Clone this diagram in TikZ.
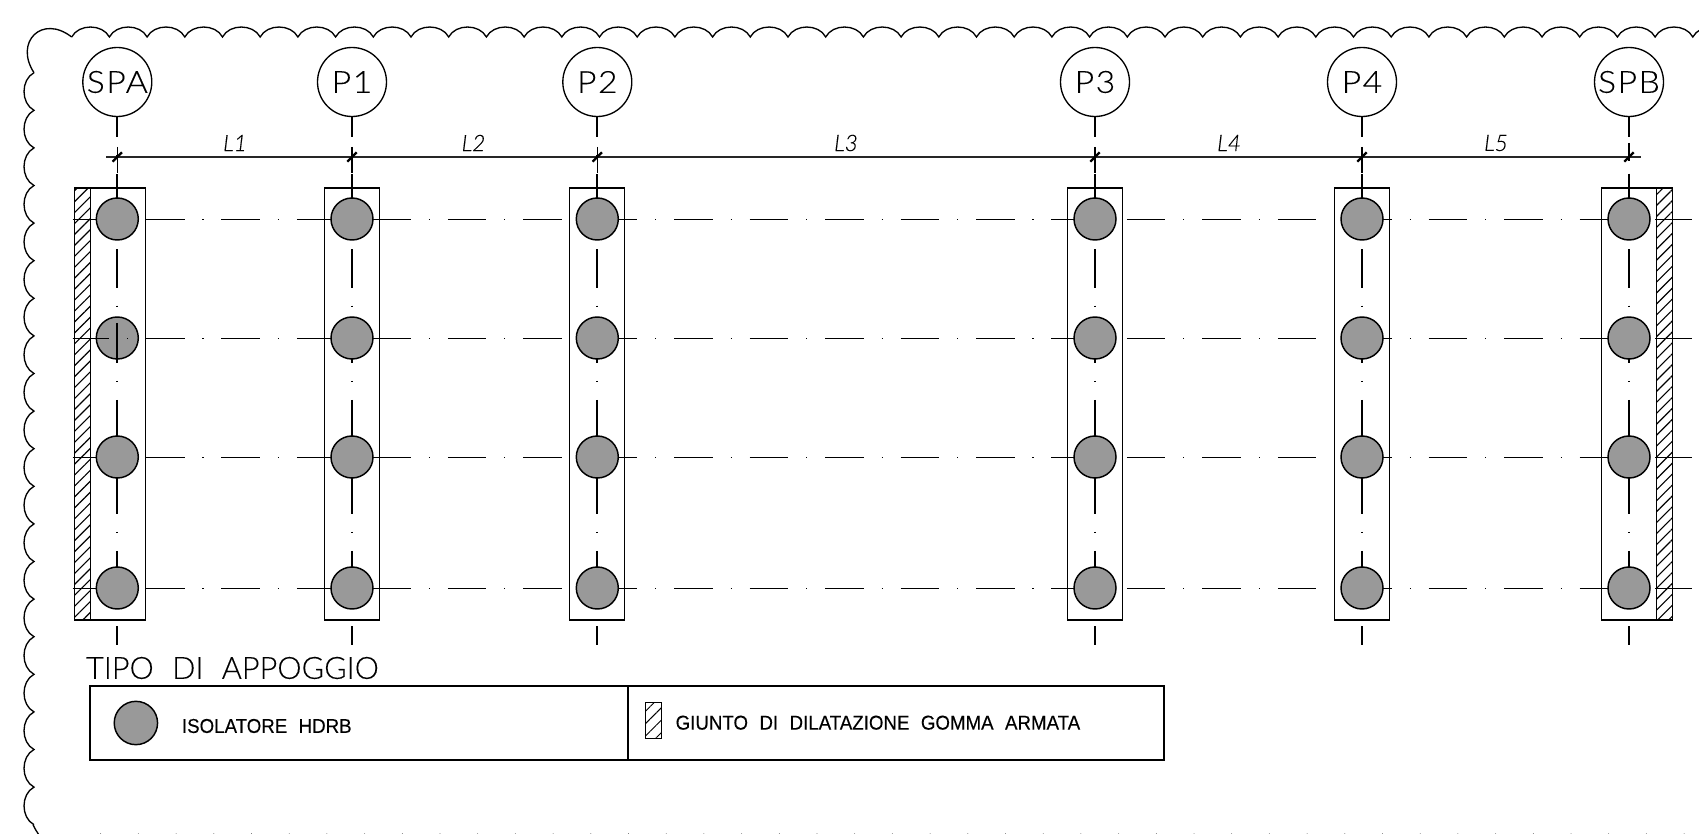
\documentclass[tikz,border=0pt]{standalone}
\usepackage{fontspec}
\usetikzlibrary{patterns.meta}
\setmainfont{Liberation Sans}
\newfontfamily\cadthin[WordSpace=2.2,FakeStretch=1.0,FakeBold=0.15]{Lato Light}
\newfontfamily\cadwide[FakeStretch=1.1,LetterSpace=5,FakeBold=0.15]{Lato Light}
\newfontfamily\cadplain[WordSpace=2.2,FakeStretch=0.935,FakeBold=0.25]{Liberation Sans}
\tikzset{
  cloudline/.style={line width=1pt},
  pierbox/.style={draw,line width=1pt,minimum width=41.25pt,minimum height=324pt,inner sep=0pt},
  jointbox/.style={draw,line width=1pt,minimum width=12pt,minimum height=324pt,inner sep=0pt,
    pattern={Lines[angle=45,distance=5.8pt,line width=.85pt]}},
  bubble/.style={draw,circle,line width=1pt,minimum size=51.75pt,inner sep=0pt,font=\cadwide\fontsize{23}{23}\selectfont},
  isolator/.style={draw,circle,fill=black!40,line width=1.1pt,minimum size=31.5pt,inner sep=0pt},
  axisv/.style={line width=1.3pt,dash pattern=on 28.9pt off 13.45pt on .8pt off 13.44pt,dash phase=14.25pt},
  axish/.style={line width=.7pt,dash pattern=on 28.9pt off 13.45pt on .8pt off 13.44pt,dash phase=1.6pt},
  dimline/.style={line width=.8pt,color=black!85},
  dimend/.style={line width=.9pt},
  ticksign/.style={line width=1.7pt},
  spanlabel/.style={font=\cadthin\itshape\fontsize{17}{17}\selectfont},
  legendbox/.style={draw,line width=1.5pt,minimum height=56pt,inner sep=0pt},
}
\begin{document}
\begin{tikzpicture}[x=.75pt,y=-.75pt]%[auto]
\useasboundingbox (0,0) rectangle (1699,834);
\clip (0,0) rectangle (1699,834);

\draw [cloudline] (71.7,37) \foreach \k in {1,...,44} {.. controls +(7,-13.3) and +(-7,-13.3) .. ++(37.7,0)};
\draw [cloudline] (34,72.7) \foreach \k in {1,...,20} {.. controls +(-13.3,7) and +(-13.3,-7) .. ++(0,37.6)};
\draw [cloudline] (34,72.7) .. controls (14,42) and (42,14) .. (71.7,37);
\draw [cloudline] (33,824.7) .. controls (35,829) and (37,832) .. (41,838);
\draw [cloudline] (63,834.5) \foreach \k in {1,...,44} {.. controls +(7,13.3) and +(-7,13.3) .. ++(37.7,0)};

\node [bubble] (spa) at (117.3,82) {SPA};
\node [bubble] (pa) at (352,82) {P1};
\node [bubble] (pb) at (597.3,82) {P2};
\node [bubble] (pc) at (1095,82) {P3};
\node [bubble] (pd) at (1362,82) {P4};
\node [bubble] (spb) at (1629,82) {SPB};

\node [jointbox] (jointa) at (82.5,404) {};
\node [jointbox] (jointb) at (1664.5,404) {};
\node [pierbox] (boxspa) at (117.7,404) {};
\node [pierbox] (boxpa) at (352.2,404) {};
\node [pierbox] (boxpb) at (597.2,404) {};
\node [pierbox] (boxpc) at (1094.8,404) {};
\node [pierbox] (boxpd) at (1362,404) {};
\node [pierbox] (boxspb) at (1629.2,404) {};

\coordinate (rowa) at (72.7,219);
\coordinate (rowb) at (72.7,338);
\coordinate (rowc) at (72.7,457);
\coordinate (rowd) at (72.7,588);
\coordinate (rowaend) at (1692,219);
\coordinate (rowbend) at (1692,338);
\coordinate (rowcend) at (1692,457);
\coordinate (rowdend) at (1692,588);
\draw [axish] (rowa) -- (rowaend);
\draw [axish] (rowb) -- (rowbend);
\draw [axish] (rowc) -- (rowcend);
\draw [axish] (rowd) -- (rowdend);

\coordinate (spaend) at (117.3,645);
\coordinate (paend) at (352,645);
\coordinate (pbend) at (597.3,645);
\coordinate (pcend) at (1095,645);
\coordinate (pdend) at (1362,645);
\coordinate (spbend) at (1629,645);
\draw [axisv] (spa.south) -- (spaend);
\draw [axisv] (pa.south) -- (paend);
\draw [axisv] (pb.south) -- (pbend);
\draw [axisv] (pc.south) -- (pcend);
\draw [axisv] (pd.south) -- (pdend);
\draw [axisv] (spb.south) -- (spbend);

\coordinate (dspa) at (117.3,157);
\coordinate (dpa) at (352,157);
\coordinate (dpb) at (597.3,157);
\coordinate (dpc) at (1095,157);
\coordinate (dpd) at (1362,157);
\coordinate (dspb) at (1629,157);
\coordinate (dimstart) at (106,157);
\coordinate (dimstop) at (1641,157);
\draw [dimline] (dimstart) -- (dimstop);
\draw [dimend] (dspa) ++(0,-10) -- ++(0,26);
\draw [dimend] (dpa) ++(0,-10) -- ++(0,26);
\draw [dimend] (dpb) ++(0,-10) -- ++(0,26);
\draw [dimend] (dpc) ++(0,-10) -- ++(0,26);
\draw [dimend] (dpd) ++(0,-10) -- ++(0,26);
\draw [dimend] (dspb) ++(0,-14) -- ++(0,18);
\draw [ticksign] (dspa) +(-4.7,4.7) -- +(4.7,-4.7);
\draw [ticksign] (dpa) +(-4.7,4.7) -- +(4.7,-4.7);
\draw [ticksign] (dpb) +(-4.7,4.7) -- +(4.7,-4.7);
\draw [ticksign] (dpc) +(-4.7,4.7) -- +(4.7,-4.7);
\draw [ticksign] (dpd) +(-4.7,4.7) -- +(4.7,-4.7);
\draw [ticksign] (dspb) +(-4.7,4.7) -- +(4.7,-4.7);

\node [spanlabel] (la) at (235,143) {L1};
\node [spanlabel] (lb) at (473.5,143) {L2};
\node [spanlabel] (lc) at (846,143) {L3};
\node [spanlabel] (ld) at (1229,143) {L4};
\node [spanlabel] (le) at (1496,143) {L5};

\node [isolator] (spaa) at (117.3,219) {};
\node [isolator] (spab) at (117.3,338) {};
\node [isolator] (spac) at (117.3,457) {};
\node [isolator] (spad) at (117.3,588) {};
\node [isolator] (paa) at (352,219) {};
\node [isolator] (pab) at (352,338) {};
\node [isolator] (pac) at (352,457) {};
\node [isolator] (pad) at (352,588) {};
\node [isolator] (pba) at (597.3,219) {};
\node [isolator] (pbb) at (597.3,338) {};
\node [isolator] (pbc) at (597.3,457) {};
\node [isolator] (pbd) at (597.3,588) {};
\node [isolator] (pca) at (1095,219) {};
\node [isolator] (pcb) at (1095,338) {};
\node [isolator] (pcc) at (1095,457) {};
\node [isolator] (pcd) at (1095,588) {};
\node [isolator] (pda) at (1362,219) {};
\node [isolator] (pdb) at (1362,338) {};
\node [isolator] (pdc) at (1362,457) {};
\node [isolator] (pdd) at (1362,588) {};
\node [isolator] (spba) at (1629,219) {};
\node [isolator] (spbb) at (1629,338) {};
\node [isolator] (spbc) at (1629,457) {};
\node [isolator] (spbd) at (1629,588) {};

\draw [axish] (rowb) -- (spab.east);
\draw [line width=1.3pt] (spab.north) ++(0,6.7) -- (spab.south);

\node [anchor=west,inner sep=0pt,font=\cadthin\fontsize{23}{23}\selectfont] (title) at (85.8,668) {TIPO DI APPOGGIO};
\node [legendbox,minimum width=403.5pt] (legenda) at (359.2,723) {};
\node [legendbox,minimum width=402pt] (legendb) at (896,723) {};
\node [isolator,minimum size=32.5pt] (samplea) at (135.9,723) {};
\node [draw,line width=.8pt,minimum width=12pt,minimum height=27pt,inner sep=0pt,
  pattern={Lines[angle=45,distance=6.6pt,line width=.7pt]}] (sampleb) at (653.8,720.3) {};
\node [anchor=west,inner sep=0pt,font=\cadplain\fontsize{15}{15}\selectfont] (texta) at (181.7,726) {ISOLATORE HDRB};
\node [anchor=west,inner sep=0pt,font=\cadplain\fontsize{15}{15}\selectfont] (textb) at (675.4,722.7) {GIUNTO DI DILATAZIONE GOMMA ARMATA};
\end{tikzpicture}
\end{document}
